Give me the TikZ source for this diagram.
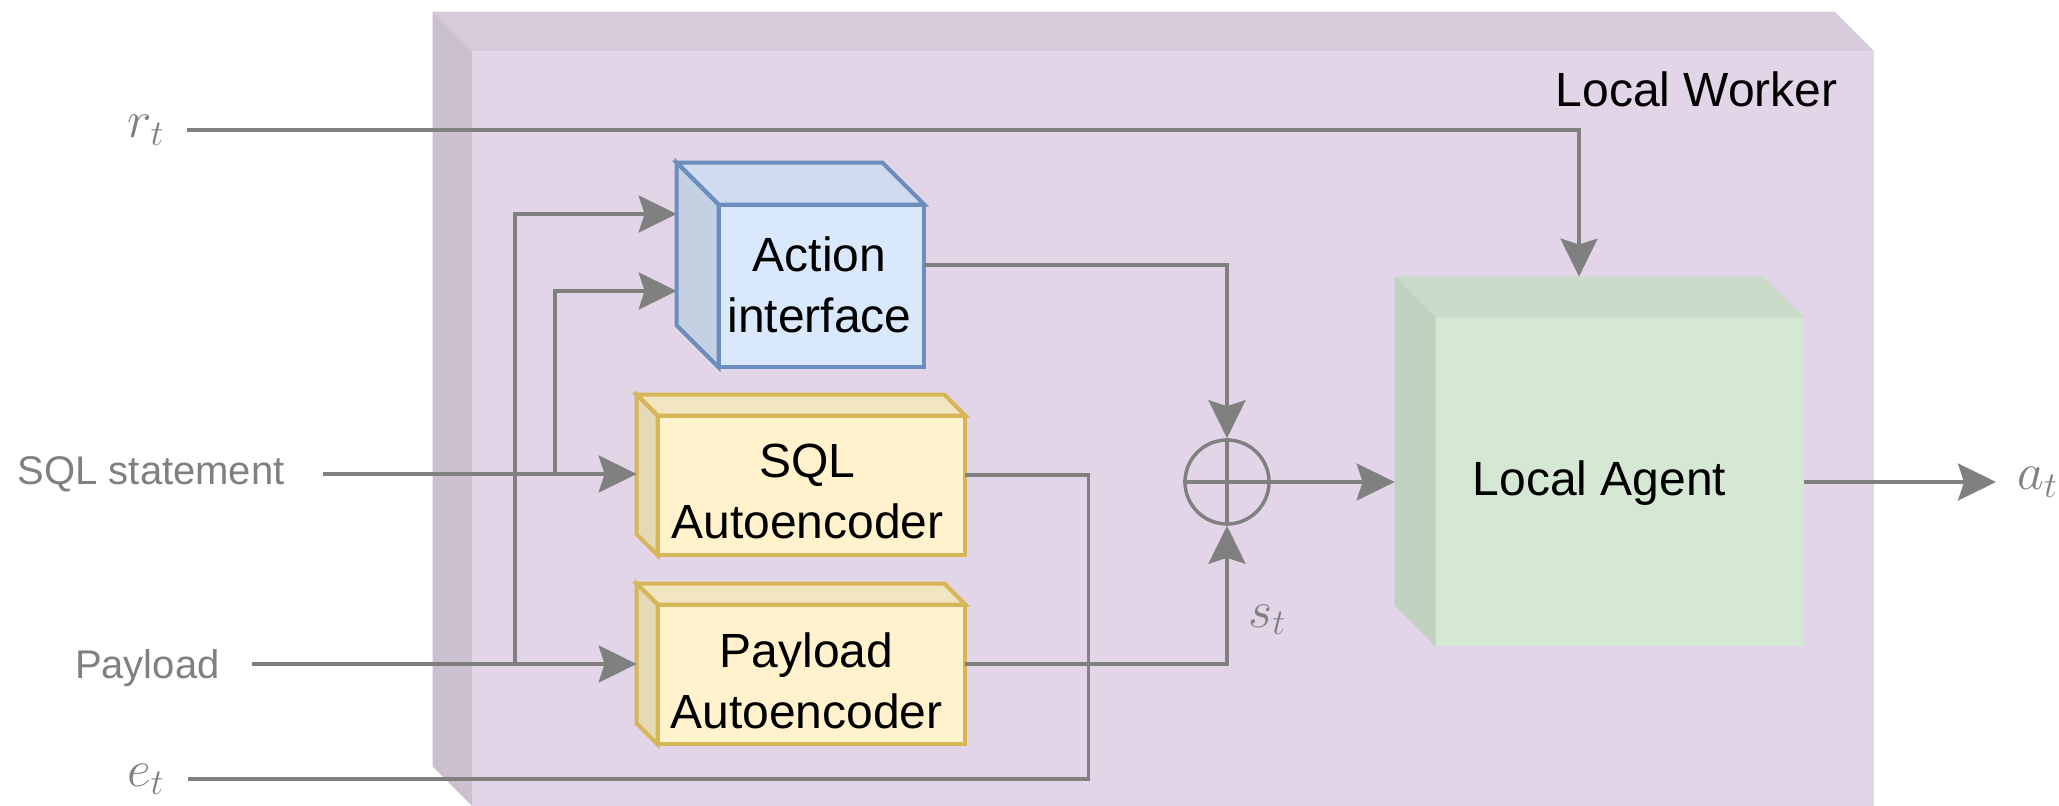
\documentclass[tikz,border=0pt]{standalone}
\usepackage{fix-cm}
\usepackage{fontspec}
\setmainfont{Liberation Sans}
\usetikzlibrary{arrows.meta,backgrounds}

\definecolor{wkfill}{HTML}{E1D5E7}
\definecolor{aifill}{HTML}{DAE8FC}
\definecolor{aistroke}{HTML}{6C8EBF}
\definecolor{aefill}{HTML}{FFF2CC}
\definecolor{aestroke}{HTML}{D6B656}
\definecolor{lafill}{HTML}{D5E8D4}
\definecolor{wire}{HTML}{808080}

% 3d box round a named node: #1 node, #2 depth, #3 fill, #4 stroke
\newcommand\boxfaces[4]{%
  \begin{pgfonlayer}{background}
  \filldraw[fill=#3!95!black, draw=#4, line width=2pt] (#1.north west)
    -- ([xshift=-#2]#1.north east) -- ([yshift=-#2]#1.north east)
    -- ([shift={(#2,-#2)}]#1.north west) -- cycle;
  \filldraw[fill=#3!90!black, draw=#4, line width=2pt] (#1.north west)
    -- ([shift={(#2,-#2)}]#1.north west) -- ([xshift=#2]#1.south west)
    -- ([yshift=#2]#1.south west) -- cycle;
  \filldraw[fill=#3, draw=#4, line width=2pt]
    ([shift={(#2,-#2)}]#1.north west) rectangle (#1.south east);
  \end{pgfonlayer}
}

\begin{document}
\begin{tikzpicture}[x=0.5pt, y=-0.5pt,
  every node/.style={font=\fontsize{24}{30.5}\selectfont},
  cube/.style 2 args={minimum width=#1, minimum height=#2, inner sep=0pt},
  boxtext/.style={align=center, inner sep=0pt},
  flow/.style={draw=wire, line width=1.75pt,
    -{Stealth[length=19pt, width=18.5pt, inset=3pt]}},
  wireline/.style={draw=wire, line width=1.75pt},
  inlabel/.style={text=wire, font=\fontsize{20}{24}\selectfont, anchor=east},
  mathlabel/.style={text=wire, font=\fontsize{26}{30}\selectfont}]
  \useasboundingbox (0,0) rectangle (2059,806);

  % worker frame
  \node[cube={720.5pt}{397pt}] (worker) at (1153.5,409) {};
  \boxfaces{worker}{20pt}{wkfill}{none}
  \node[anchor=base east, inner sep=0pt] (wlabel) at (1838,107) {Local Worker};

  % boxes
  \node[cube={123.5pt}{102pt},
    label={[boxtext, shift={(9.5pt,-10pt)}]center:Action\\interface}] (action) at (800.5,265) {};
  \boxfaces{action}{21pt}{aifill}{aistroke}
  \node[cube={164pt}{80pt},
    label={[boxtext, shift={(3.25pt,-8.25pt)}]center:SQL\\Autoencoder}] (sqlae) at (801,475) {};
  \boxfaces{sqlae}{10.5pt}{aefill}{aestroke}
  \node[cube={164pt}{80pt},
    label={[boxtext, shift={(2.75pt,-8.5pt)}]center:Payload\\Autoencoder}] (payae) at (801,664) {};
  \boxfaces{payae}{10.5pt}{aefill}{aestroke}
  \node[cube={204.5pt}{184.5pt},
    label={[boxtext, yshift=-11pt]center:Local Agent}] (agent) at (1599.5,461.5) {};
  \boxfaces{agent}{20.5pt}{lafill}{none}

  \node[circle, draw=wire, line width=1.75pt, minimum size=42pt, inner sep=0pt] (sum) at (1227,482) {};
  \draw[wireline] (sum.north) -- (sum.south) (sum.west) -- (sum.east);

  % inputs and output
  \node[mathlabel, anchor=east, inner xsep=11pt] (rt) at (187,130) {$r_t$};
  \node[inlabel, inner xsep=19pt] (sql) at (323,474) {SQL statement};
  \node[inlabel, inner xsep=16pt, text depth=0pt] (pay) at (252,664) {Payload};
  \node[mathlabel, anchor=east, inner xsep=11.5pt] (et) at (188,779) {$e_t$};
  \node[mathlabel, anchor=west, inner xsep=10.5pt] (at) at (1996,482) {$a_t$};
  \node[mathlabel, anchor=base west, inner sep=0pt] (st) at (1248,627) {$s_t$};

  \coordinate (sqlfork) at (555,474);
  \coordinate (payfork) at (515,664);

  \draw[flow] (rt) -| ([xshift=-10.25pt]agent.north);
  \draw[flow] (sql) -- (sql -| sqlae.west);
  \draw[flow] (pay) -- (pay -| payae.west);
  \draw[flow] (sqlfork) |- ([yshift=-13pt]action.west);
  \draw[flow] (payfork) |- ([yshift=25.5pt]action.west);
  \draw[wireline] (sqlae.east) -- ++(123,0) |- (et);
  \draw[flow] (action.east) -| (sum.north);
  \draw[flow] (payae.east) -| (sum.south);
  \draw[flow] (sum) -- ([yshift=-10.25pt]agent.west);
  \draw[flow] ([yshift=-10.25pt]agent.east) -- (at);
\end{tikzpicture}
\end{document}
